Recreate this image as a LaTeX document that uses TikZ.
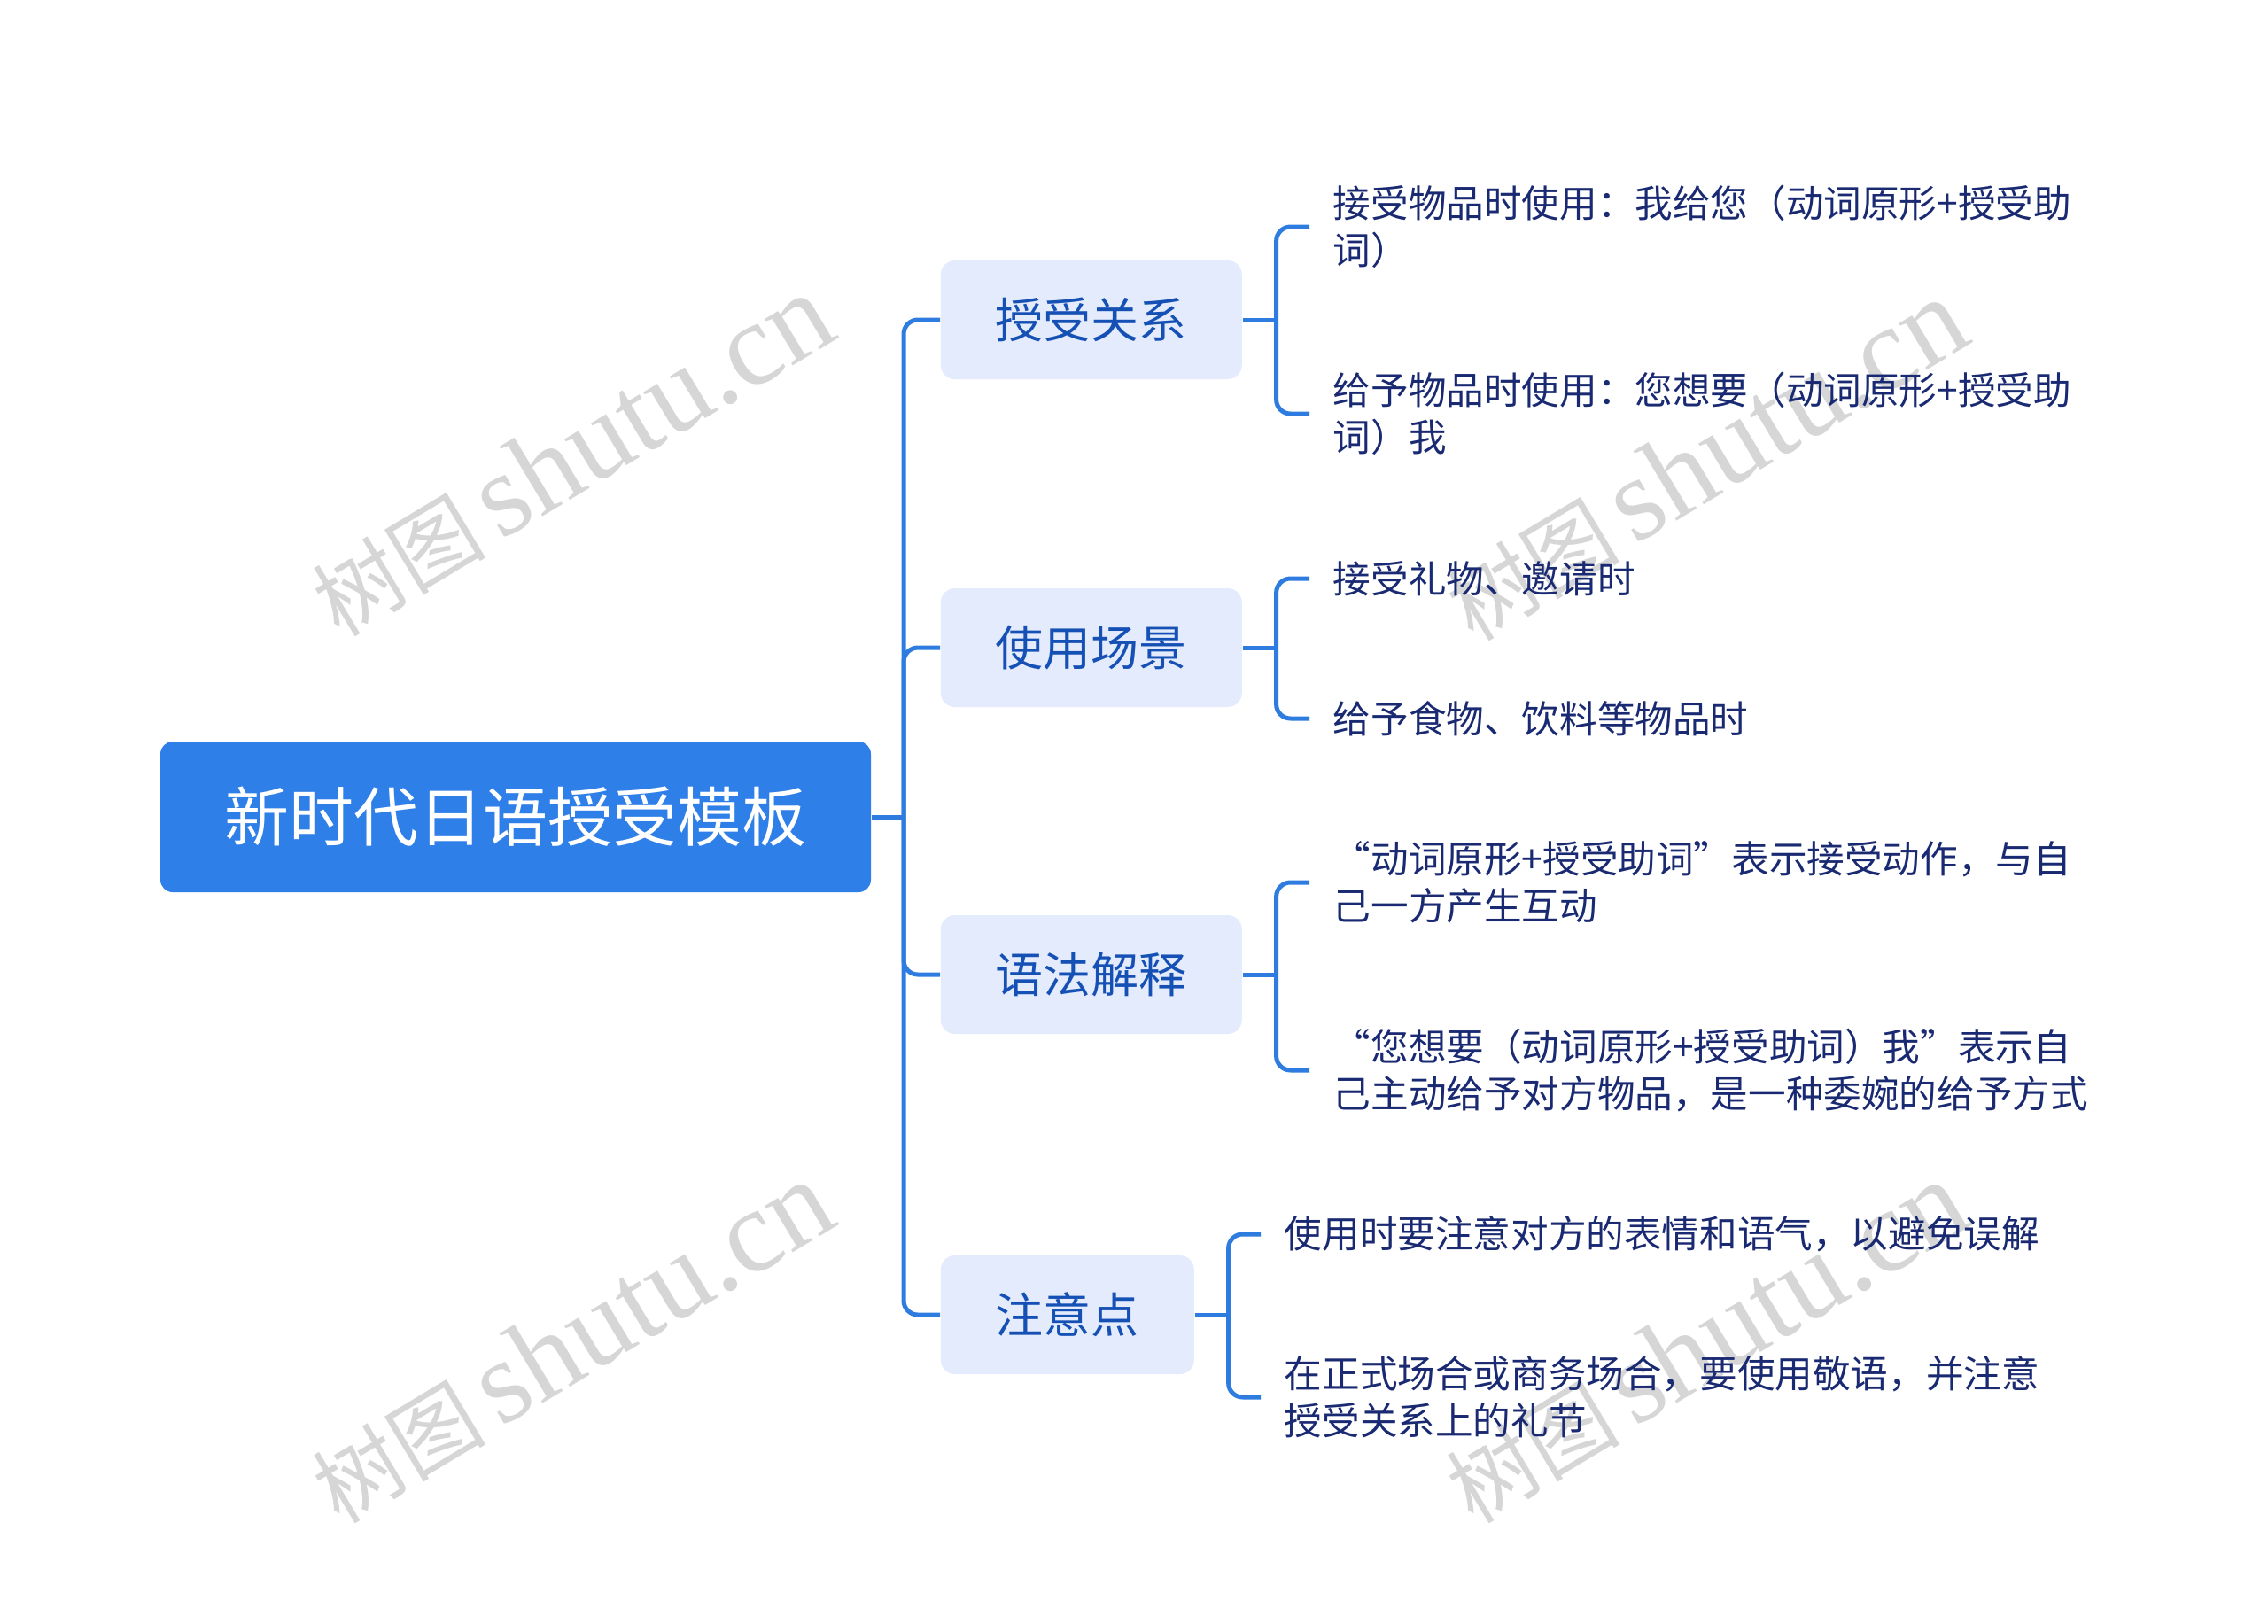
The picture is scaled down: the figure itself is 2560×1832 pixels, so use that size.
\documentclass[tikz,border=0pt]{standalone}
\usepackage{fontspec}
\setmainfont{Noto Sans CJK SC}
\newfontfamily\wmlatin{Liberation Serif}
\definecolor{rootblue}{HTML}{2F7FE8}
\definecolor{linkblue}{HTML}{2E7CE0}
\definecolor{topicfill}{HTML}{E3EBFC}
\definecolor{topictext}{HTML}{1550B5}
\definecolor{leaftext}{HTML}{1A2A72}
\definecolor{wmgray}{HTML}{D6D6D6}

\begin{document}
\begin{tikzpicture}[x=0.25pt, y=-0.25pt,
    link/.style={draw=linkblue, line width=1.25pt, rounded corners=4pt},
    rootbox/.style={fill=rootblue, text=white, rounded corners=3.5pt, minimum width=200.5pt, minimum height=42.5pt, font=\fontsize{18.25}{22}\selectfont},
    topic/.style={anchor=west, fill=topicfill, text=topictext, rounded corners=4pt, inner xsep=15.5pt, minimum height=33.5pt, font=\fontsize{13.5}{16}\selectfont},
    leaf/.style={anchor=west, text=leaftext, align=left, inner xsep=6.5pt, font=\fontsize{10.65}{13.25}\selectfont},
    wmark/.style={text=wmgray, rotate=31, inner sep=0pt}]
    \useasboundingbox (0,0) rectangle (2560,1832);

    % watermarks
    \foreach \wx/\wy [count=\i] in {645/514, 645/1515, 1925/519, 1925/1515}
        \node[wmark] (wm\i) at (\wx,\wy) {\fontsize{24.5}{25}\selectfont 树图\,\wmlatin\fontsize{33.3}{34}\selectfont shutu.cn};

    % root
    \node[rootbox] (root) at (582,922) {新时代日语授受模板};
    \coordinate (fork0) at (1020,922);

    % topics
    \node[topic] (t1) at (1061,361) {授受关系};
    \node[topic] (t2) at (1061,731) {使用场景};
    \node[topic] (t3) at (1061,1100) {语法解释};
    \node[topic] (t4) at (1061,1484) {注意点};

    % leaves
    \node[leaf] (l11) at (1478,256) {接受物品时使用：我给您（动词原形+授受助\\词）};
    \node[leaf] (l12) at (1478,467) {给予物品时使用：您想要（动词原形+授受助\\词）我};
    \node[leaf] (l21) at (1478,653) {接受礼物、邀请时};
    \node[leaf] (l22) at (1478,811) {给予食物、饮料等物品时};
    \node[leaf] (l31) at (1478,996) {“动词原形+授受助词”表示接受动作，与自\\己一方产生互动};
    \node[leaf] (l32) at (1478,1208) {“您想要（动词原形+授受助词）我”表示自\\己主动给予对方物品，是一种委婉的给予方式};
    \node[leaf] (l41) at (1423,1393) {使用时要注意对方的表情和语气，以避免误解};
    \node[leaf] (l42) at (1423,1577) {在正式场合或商务场合，要使用敬语，并注意\\授受关系上的礼节};

    % connectors
    \draw[link] (root.east) -- (fork0);
    \foreach \t in {t1,t2,t3,t4}
        \draw[link] (fork0) |- (\t.west);
    \foreach \t/\a/\b in {t1/l11/l12, t2/l21/l22, t3/l31/l32, t4/l41/l42} {
        \coordinate (f\t) at ([xshift=9.5pt]\t.east);
        \draw[link] (\t.east) -- (f\t);
        \draw[link] (f\t) |- (\a.west);
        \draw[link] (f\t) |- (\b.west);
    }
\end{tikzpicture}
\end{document}
